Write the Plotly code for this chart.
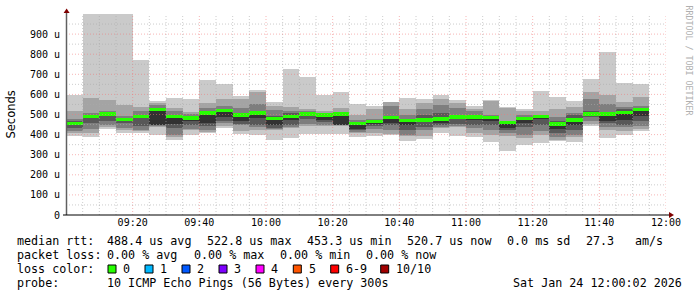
import plotly.graph_objects as go
from datetime import datetime, timedelta

# ---------------- data ----------------
bin_start = "2026-01-24 09:00:00"
bin_minutes = 5
# sorted ping RTTs per 5-minute bin (microseconds), ping1 = fastest ... ping10 = slowest
ping1 = [392,387,428,408,408,397,375,397,407,435,404,400,374,385,404,404,404,390,395,400,370,377,410,392,390,365,316,346,360,370,365,445,385,399,420]
ping2 = [408,408,440,422,417,440,390,422,415,442,420,422,425,433,442,442,445,408,410,405,392,395,433,440,410,400,392,383,400,375,390,455,422,420,430]
ping3 = [420,430,450,435,425,445,400,430,425,458,450,440,430,440,455,450,446,415,430,425,400,425,440,445,435,425,408,400,420,390,400,470,440,440,442]
ping4 = [432,458,470,458,442,448,433,450,445,470,455,450,435,450,478,462,448,422,445,450,425,440,450,455,450,450,422,440,450,410,422,490,460,450,470]
ping5 = [452,486,500,475,487,450,455,467,458,488,470,485,450,475,498,472,450,430,455,458,450,465,458,480,475,467,433,458,480,428,450,498,470,475,492]
ping6 = [462,494,505,479,493,528,493,490,508,520,500,510,488,495,505,500,505,460,465,488,472,482,490,492,492,490,460,487,493,458,485,508,500,515,525]
ping7 = [468,497,508,482,497,532,500,495,513,525,505,515,495,505,508,502,506,465,470,495,478,500,505,497,495,492,462,490,495,470,500,517,505,525,530]
ping8 = [480,508,515,492,515,545,515,503,530,540,533,550,522,517,517,508,512,475,480,542,500,525,548,530,515,500,467,500,500,488,508,575,550,538,542]
ping9 = [515,582,570,545,538,558,530,513,555,575,578,610,542,538,528,517,530,500,525,560,525,558,578,558,528,567,530,517,517,525,535,613,595,560,585]
ping10 = [595,1000,1000,1000,772,568,583,578,673,650,593,623,563,728,688,598,613,553,540,563,583,578,598,573,543,573,537,528,618,588,568,678,809,658,653]
median_rtt = [457,490,503,477,490,525,490,483,507,518,498,507,482,490,503,498,503,457,467,485,470,473,478,488,488,487,462,482,490,453,473,503,503,510,523]

x_range = ["2026-01-24 09:00:00", "2026-01-24 12:00:00"]
x_tick_labels = ["09:20", "09:40", "10:00", "10:20", "10:40", "11:00", "11:20", "11:40", "12:00"]
y_tick_values = [0, 100, 200, 300, 400, 500, 600, 700, 800, 900]
y_tick_labels = ["0", "100 u", "200 u", "300 u", "400 u", "500 u", "600 u", "700 u", "800 u", "900 u"]

legend_rtt = [("median rtt:", 16.5), ("488.4 us avg", 107.3), ("522.8 us max", 207.3),
              ("453.3 us min", 307.3), ("520.7 us now", 407.3), ("0.0 ms sd", 507.3),
              ("27.3", 586.0), ("am/s", 635.0)]
legend_loss = [("packet loss:", 16.5), ("0.00 % avg", 107.3), ("0.00 % max", 193.5),
               ("0.00 % min", 279.6), ("0.00 % now", 365.7)]
loss_labels = ["0", "1", "2", "3", "4", "5", "6-9", "10/10"]
loss_colors = ["#26ff00", "#00b8ff", "#0059ff", "#7e00ff", "#ff00ff", "#ff5500", "#ff0000", "#a10000"]
loss_box_x = [108.0, 145.0, 182.0, 219.0, 256.0, 293.3, 330.7, 380.7]
probe_line = [("probe:", 16.5), ("10 ICMP Echo Pings (56 Bytes) every 300s", 107.3),
              ("Sat Jan 24 12:00:02 2026", 513.3)]

# ---------------- geometry ----------------
W, H = 697, 297
L, R, T, B = 66, 31, 14, 82
PW = W - L - R
PH = H - T - B
Y_MAX = 1000.0

def px(xp):
    return (xp - L) / PW

def py(yp):
    return (T + PH - yp) / PH

pings = [ping1, ping2, ping3, ping4, ping5, ping6, ping7, ping8, ping9, ping10]
n = len(median_rtt)
for p in pings:
    assert len(p) == n

t0 = datetime.strptime(bin_start, "%Y-%m-%d %H:%M:%S")
step = timedelta(minutes=bin_minutes)
centers = [(t0 + step * i + step / 2).strftime("%Y-%m-%d %H:%M:%S") for i in range(n)]
BIN_MS = bin_minutes * 60 * 1000

shades = ["#cacaca", "#a4a4a4", "#7e7e7e", "#585858", "#323232"]

fig = go.Figure()
for i in range(5):
    lo = pings[i]
    hi = pings[9 - i]
    fig.add_trace(go.Bar(
        x=centers, base=lo, y=[h - l for h, l in zip(hi, lo)], width=BIN_MS,
        marker=dict(color=shades[i], line=dict(width=0)),
        hoverinfo="skip", showlegend=False))

med_half = 1.6 * Y_MAX / PH
fig.add_trace(go.Bar(
    x=centers, base=[m - med_half for m in median_rtt], y=[2 * med_half] * n, width=BIN_MS,
    marker=dict(color="#26ff00", line=dict(width=0)),
    hoverinfo="skip", showlegend=False))

shapes = []
# vertical grid
x_end = datetime.strptime(x_range[1], "%Y-%m-%d %H:%M:%S")
t = t0 + step
while t <= x_end:
    major = (t.minute % 20 == 0)
    shapes.append(dict(type="line", xref="x", yref="paper", x0=t.strftime("%Y-%m-%d %H:%M:%S"),
                       x1=t.strftime("%Y-%m-%d %H:%M:%S"), y0=0, y1=1, layer="above",
                       line=dict(color="rgba(240,120,120,0.55)" if major else "rgba(170,170,170,0.6)",
                                 width=1, dash="1px,2px")))
    t += step
# horizontal grid
v = 50
while v < Y_MAX:
    major = (v % 100 == 0)
    shapes.append(dict(type="line", xref="paper", yref="y", x0=0, x1=1, y0=v, y1=v, layer="above",
                       line=dict(color="rgba(240,120,120,0.55)" if major else "rgba(170,170,170,0.6)",
                                 width=1, dash="1px,2px")))
    v += 50

# axes lines and arrows
shapes.append(dict(type="line", xref="paper", yref="paper", x0=px(66.5), x1=px(66.5), y0=py(215), y1=py(12),
                   layer="above", line=dict(color="#606060", width=1.5)))
shapes.append(dict(type="line", xref="paper", yref="paper", x0=px(63), x1=px(670), y0=py(215), y1=py(215),
                   layer="above", line=dict(color="#000000", width=1)))
shapes.append(dict(type="path", xref="paper", yref="paper", layer="above",
                   path=f"M {px(66.6)} {py(8.5)} L {px(63.6)} {py(13)} L {px(69.6)} {py(13)} Z",
                   fillcolor="#7f0000", line=dict(width=0)))
shapes.append(dict(type="path", xref="paper", yref="paper", layer="above",
                   path=f"M {px(674)} {py(215)} L {px(669)} {py(212)} L {px(669)} {py(218)} Z",
                   fillcolor="#7f0000", line=dict(width=0)))

# loss colour boxes
for bx, col in zip(loss_box_x, loss_colors):
    shapes.append(dict(type="rect", xref="paper", yref="paper", x0=px(bx), x1=px(bx + 8),
                       y0=py(273), y1=py(265), fillcolor=col, line=dict(color="#000000", width=1)))

MONO = "DejaVu Sans Mono"
annotations = []

def text_at(txt, xp, yp, size=11.7, color="#000000", **kw):
    d = dict(text=txt, xref="paper", yref="paper", x=px(xp), y=py(yp), xanchor="left",
             yanchor="middle", showarrow=False, borderpad=0, borderwidth=0,
             font=dict(family=MONO, size=size, color=color))
    d.update(kw)
    annotations.append(d)

for txt, xp in legend_rtt:
    text_at(txt, xp, 241.3)
for txt, xp in legend_loss:
    text_at(txt, xp, 255.0)
text_at("loss color:", 16.5, 269.0)
for bx, lab in zip(loss_box_x, loss_labels):
    text_at(lab, bx + 15.3, 269.0)
for txt, xp in probe_line:
    text_at(txt, xp, 282.8)

annotations.append(dict(text="Seconds", xref="paper", yref="paper", x=px(10), y=py(114.5),
                        xanchor="center", yanchor="middle", textangle=-90, showarrow=False,
                        font=dict(family="DejaVu Sans", size=11.5, color="#000000")))
annotations.append(dict(text="RRDTOOL / TOBI OETIKER", xref="paper", yref="paper", x=px(688.5), y=py(60),
                        xanchor="center", yanchor="middle", textangle=90, showarrow=False,
                        font=dict(family=MONO, size=8.3, color="#b0b0b0")))

x_tick_vals = ["2026-01-24 " + s + ":00" for s in x_tick_labels]

fig.update_layout(
    width=W, height=H,
    margin=dict(l=L, r=R, t=T, b=B, pad=0),
    paper_bgcolor="#ffffff", plot_bgcolor="#ffffff",
    barmode="overlay", bargap=0, showlegend=False,
    xaxis=dict(type="date", range=x_range, tickvals=x_tick_vals, ticktext=x_tick_labels,
               showgrid=False, zeroline=False, showline=False, ticks="",
               tickfont=dict(family=MONO, size=10, color="#000000"), fixedrange=True),
    yaxis=dict(range=[0, Y_MAX], tickvals=y_tick_values, ticktext=y_tick_labels,
               showgrid=False, zeroline=False, showline=False, ticks="", ticklabelstandoff=5,
               tickfont=dict(family=MONO, size=10, color="#000000"), fixedrange=True),
    shapes=shapes, annotations=annotations,
)

fig.write_html("out.html", config={"displayModeBar": False})
